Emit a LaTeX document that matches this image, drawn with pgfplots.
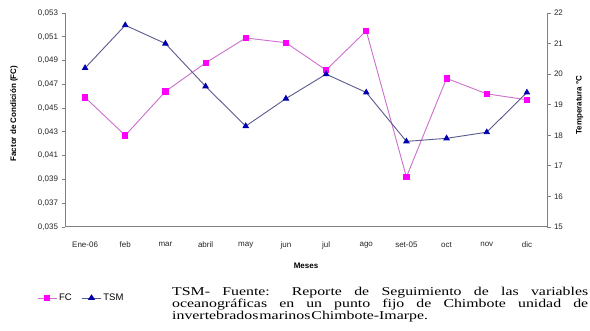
\documentclass[border=0pt]{standalone}
\usepackage{fontspec}
\setmainfont{Liberation Sans}
\newfontfamily\timesfont[FakeStretch=1.32]{Liberation Serif}
\usepackage{pgfplots}
\pgfplotsset{compat=1.18}
\definecolor{fcline}{HTML}{CC70CC}
\definecolor{fcmark}{HTML}{FF00FF}
\definecolor{tsmline}{HTML}{5A5A90}
\definecolor{tsmmark}{HTML}{0000B0}
\definecolor{axgray}{HTML}{808080}
\begin{document}
\begin{tikzpicture}[x=1pt,y=1pt]
\fill[white] (0,0) rectangle (590,331);
\useasboundingbox (0,0) rectangle (590,331);
\begin{axis}[
  at={(65pt,104pt)}, anchor=south west,
  scale only axis, width=482pt, height=214pt,
  xmin=-0.5, xmax=11.5, ymin=0.035, ymax=0.053,
  axis x line*=bottom, axis y line*=left,
  axis line style={axgray, line width=1pt, -},
  tick style={axgray, line width=0.8pt},
  tick align=outside, major tick length=3.5pt,
  xtick={0,...,11},
  xticklabels={Ene-06,feb,mar,abril,may,jun,jul,ago,set-05,oct,nov,dic},
  major x tick style={draw=none},
  extra x ticks={0.5,1.5,2.5,3.5,4.5,5.5,6.5,7.5,8.5,9.5,10.5},
  extra x tick labels={},
  extra x tick style={major x tick style={axgray, line width=0.8pt}},
  ytick={0.035,0.037,0.039,0.041,0.043,0.045,0.047,0.049,0.051,0.053},
  scaled y ticks=false,
  yticklabel style={/pgf/number format/.cd, fixed, fixed zerofill, precision=3, use comma},
  /pgf/number format/assume math mode=true,
  ticklabel style={font=\fontsize{8}{9}\selectfont, text=black!85},
  xticklabel style={yshift=-8pt},
  xlabel={\textbf{Meses}},
  xlabel style={at={(axis description cs:0.5,-0.18)}, anchor=center, font=\fontsize{8}{9}\selectfont},
  ylabel={\textbf{Factor de Condición (FC)}},
  ylabel style={at={(axis description cs:-0.106,0.53)}, anchor=center, font=\fontsize{8}{9}\selectfont},
]
\addplot[fcline, line width=0.9pt, mark=square*, mark size=2.6pt, mark options={fcmark, draw=fcmark, fill=fcmark}] coordinates {
(0,0.0459) (1,0.0427) (2,0.0464) (3,0.0488) (4,0.0509) (5,0.0505)
(6,0.0482) (7,0.0515) (8,0.0392) (9,0.0475) (10,0.0462) (11,0.0457)};
\end{axis}
\begin{axis}[
  at={(65pt,104pt)}, anchor=south west,
  scale only axis, width=482pt, height=214pt,
  xmin=-0.5, xmax=11.5, ymin=15, ymax=22,
  axis x line=none, axis y line*=right,
  axis line style={axgray, line width=1pt, -},
  tick style={axgray, line width=0.8pt},
  tick align=outside, major tick length=3.5pt,
  ytick={15,...,22},
  /pgf/number format/assume math mode=true,
  ticklabel style={font=\fontsize{8}{9}\selectfont, text=black!85},
  ylabel={\textbf{Temperatura °C}},
  ylabel style={at={(axis description cs:1.068,0.57)}, anchor=center, font=\fontsize{8}{9}\selectfont},
  legend style={at={(axis description cs:-0.064,-0.332)}, anchor=west, draw=none, fill=none,
    legend columns=2, font=\fontsize{9.5}{10}\selectfont,
    /tikz/every even column/.append style={column sep=8pt}},
  legend image post style={xscale=1.1},
]
\addlegendimage{fcline, line width=0.9pt, mark=square*, mark size=2.4pt, mark options={fcmark, draw=fcmark, fill=fcmark}}
\addlegendentry{FC}
\addplot[tsmline, line width=0.9pt, mark=triangle*, mark size=3pt, mark options={tsmmark, draw=tsmmark, fill=tsmmark}] coordinates {
(0,20.2) (1,21.6) (2,21.0) (3,19.6) (4,18.3) (5,19.2)
(6,20.0) (7,19.4) (8,17.8) (9,17.9) (10,18.1) (11,19.4)};
\addlegendentry{TSM}
\end{axis}
\begin{scope}[every node/.style={anchor=base west, inner sep=0pt, font={\timesfont\fontsize{12}{12}\selectfont}}]
\node at (172,35) {\makebox[416pt][s]{TSM- Fuente: Reporte de Seguimiento de las variables}};
\node at (172,23) {\makebox[416pt][s]{oceanográficas en un punto fijo de Chimbote unidad de}};
\node at (172,11.2) {invertebrados\hspace{1pt}marinos\hspace{1pt}Chimbote-Imarpe.};
\end{scope}
\end{tikzpicture}
\end{document}
